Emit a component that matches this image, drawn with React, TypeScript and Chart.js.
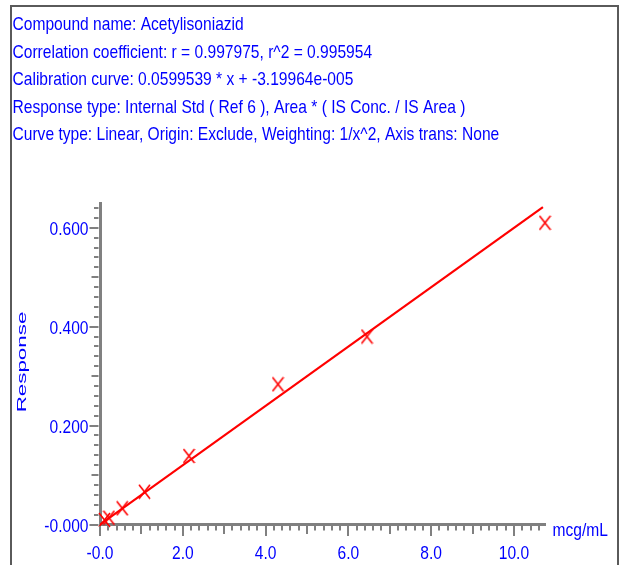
import React, { useEffect, useRef } from "react";
import { Chart, registerables } from "chart.js";

Chart.register(...registerables);

const headerLines = [
  "Compound name: Acetylisoniazid",
  "Correlation coefficient: r = 0.997975, r^2 = 0.995954",
  "Calibration curve: 0.0599539 * x + -3.19964e-005",
  "Response type: Internal Std ( Ref 6 ), Area * ( IS Conc. / IS Area )",
  "Curve type: Linear, Origin: Exclude, Weighting: 1/x^2, Axis trans: None",
];

const concentrations = [0.1075, 0.215, 0.5375, 1.075, 2.15, 4.3, 6.45, 10.75];
const responses = [0.0091, 0.0137, 0.0328, 0.0663, 0.1385, 0.2835, 0.38, 0.61];

const fitX = [0, 10.7];
const fitY = [-0.000032, 0.6415];

const xTickValues = [0, 2, 4, 6, 8, 10];
const xTickLabels = ["-0.0", "2.0", "4.0", "6.0", "8.0", "10.0"];
const yTickValues = [0, 0.2, 0.4, 0.6];
const yTickLabels = ["-0.000", "0.200", "0.400", "0.600"];

const xAxisTitle = "mcg/mL";
const yAxisTitle = "Response";

const FONT = "'Liberation Sans', Arial, sans-serif";
const NARROW_SCALE = 0.82;
const BLUE = "#0000FF";
const RED = "#FF0000";
const AXIS_GRAY = "#808080";

function drawText(
  ctx: CanvasRenderingContext2D,
  text: string,
  x: number,
  y: number,
  align: CanvasTextAlign,
  baseline: CanvasTextBaseline,
  sx: number
) {
  ctx.save();
  ctx.translate(x, y);
  ctx.scale(sx, 1);
  ctx.textAlign = align;
  ctx.textBaseline = baseline;
  ctx.fillText(text, 0, 0);
  ctx.restore();
}

function makeCross(): HTMLCanvasElement {
  const c = document.createElement("canvas");
  c.width = 13;
  c.height = 16;
  const g = c.getContext("2d")!;
  g.strokeStyle = RED;
  g.lineWidth = 1.6;
  g.beginPath();
  g.moveTo(1, 1);
  g.lineTo(12, 15);
  g.moveTo(12, 1);
  g.lineTo(1, 15);
  g.stroke();
  return c;
}

const decorPlugin = {
  id: "decor",
  beforeDraw(chart: any) {
    const ctx = chart.ctx as CanvasRenderingContext2D;
    ctx.save();
    ctx.fillStyle = "#FFFFFF";
    ctx.fillRect(0, 0, chart.width, chart.height);
    ctx.strokeStyle = "#5a5a5a";
    ctx.lineWidth = 2;
    ctx.beginPath();
    ctx.moveTo(11, 565);
    ctx.lineTo(11, 6);
    ctx.lineTo(618, 6);
    ctx.lineTo(618, 565);
    ctx.stroke();

    ctx.fillStyle = BLUE;
    ctx.font = `19px ${FONT}`;
    headerLines.forEach((line, i) => {
      drawText(ctx, line, 12.5, 30 + i * 27.5, "left", "alphabetic", NARROW_SCALE);
    });
    ctx.restore();
  },
  afterDraw(chart: any) {
    const ctx = chart.ctx as CanvasRenderingContext2D;
    const xs = chart.scales.x;
    const ys = chart.scales.y;
    const area = chart.chartArea;
    ctx.save();
    ctx.strokeStyle = AXIS_GRAY;
    ctx.lineWidth = 2;
    for (let k = 0; k * 0.2 <= xs.max + 1e-9; k++) {
      const px = Math.round(xs.getPixelForValue(k * 0.2));
      const len = k % 10 === 0 ? 10 : k % 5 === 0 ? 8 : 4.5;
      ctx.beginPath();
      ctx.moveTo(px, area.bottom + 1.5);
      ctx.lineTo(px, area.bottom + 1.5 + len);
      ctx.stroke();
    }
    for (let k = 0; k * 0.02 <= ys.max + 1e-9; k++) {
      const py = Math.round(ys.getPixelForValue(k * 0.02));
      const len = k % 10 === 0 ? 9 : k % 5 === 0 ? 7 : 4.5;
      ctx.beginPath();
      ctx.moveTo(area.left - 1.5, py);
      ctx.lineTo(area.left - 1.5 - len, py);
      ctx.stroke();
    }

    ctx.fillStyle = BLUE;
    ctx.font = `19px ${FONT}`;
    xTickValues.forEach((v, i) => {
      drawText(ctx, xTickLabels[i], xs.getPixelForValue(v), area.bottom + 34, "center", "alphabetic", NARROW_SCALE);
    });
    yTickValues.forEach((v, i) => {
      drawText(ctx, yTickLabels[i], area.left - 11.5, ys.getPixelForValue(v) + 7, "right", "alphabetic", NARROW_SCALE);
    });
    drawText(ctx, xAxisTitle, 552.5, 536, "left", "alphabetic", NARROW_SCALE);

    ctx.translate(22.5, 362);
    ctx.rotate(-Math.PI / 2);
    ctx.scale(1.72, 1);
    ctx.font = `13px ${FONT}`;
    ctx.textAlign = "center";
    ctx.textBaseline = "middle";
    ctx.fillText(yAxisTitle, 0, 0);
    ctx.restore();
  },
};

export default function App() {
  const ref = useRef<HTMLCanvasElement | null>(null);

  useEffect(() => {
    if (!ref.current) return;
    const cross = makeCross();
    const chart = new Chart(ref.current, {
      type: "scatter",
      data: {
        datasets: [
          {
            type: "line",
            label: "fit",
            data: fitX.map((x, i) => ({ x, y: fitY[i] })),
            borderColor: RED,
            borderWidth: 2.2,
            pointRadius: 0,
            fill: false,
            showLine: true,
          } as any,
          {
            type: "scatter",
            label: "standards",
            data: concentrations.map((x, i) => ({ x, y: responses[i] })),
            pointStyle: cross,
            pointRadius: 8,
            clip: false,
          } as any,
        ],
      },
      options: {
        responsive: false,
        animation: false,
        devicePixelRatio: 1,
        layout: { padding: { left: 0, right: 76, top: 203, bottom: 0 } },
        plugins: {
          legend: { display: false },
          tooltip: { enabled: false },
          title: { display: false },
        },
        scales: {
          x: {
            type: "linear",
            min: 0,
            max: 10.75,
            afterFit: (s: any) => {
              s.height = 40.5;
            },
            grid: { display: false, drawTicks: false },
            border: { display: true, color: AXIS_GRAY, width: 3 },
            ticks: { display: false, stepSize: 2 },
          },
          y: {
            type: "linear",
            min: 0,
            max: 0.65,
            afterFit: (s: any) => {
              s.width = 100;
            },
            grid: { display: false, drawTicks: false },
            border: { display: true, color: AXIS_GRAY, width: 3 },
            ticks: { display: false, stepSize: 0.2 },
          },
        },
      },
      plugins: [decorPlugin],
    });
    return () => chart.destroy();
  }, []);

  return (
    <div style={{ position: "absolute", left: 0, top: 0, width: 621, height: 565 }}>
      <canvas ref={ref} width={621} height={565} style={{ width: 621, height: 565, display: "block" }} />
    </div>
  );
}
